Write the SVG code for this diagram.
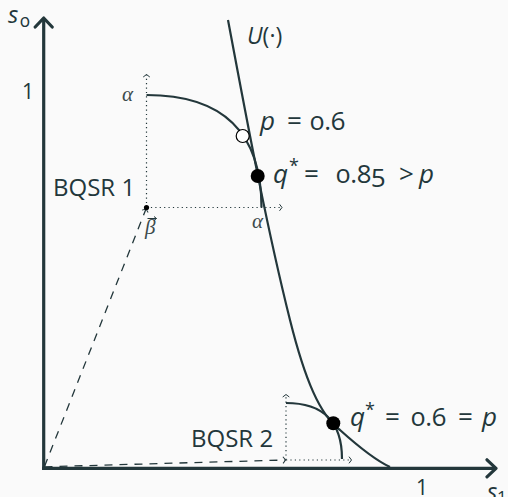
<svg xmlns="http://www.w3.org/2000/svg" width="508" height="497" viewBox="0 0 508 497">
<defs>
<style>
.t{font-family:"Open Sans","Noto Sans",sans-serif;fill:#23373B}
.m{font-family:"Open Sans","Noto Sans",sans-serif;fill:#23373B;font-size:26px}
.i{font-style:italic}
.on{font-variant-numeric:oldstyle-nums}
.g{font-family:"Liberation Serif","DejaVu Serif",serif;font-style:italic;fill:#3c4a4d;font-size:21px}
.axis{stroke:#23373B;stroke-width:3.2;fill:none;marker-end:url(#big)}
.crv{stroke:#23373B;stroke-width:2.2;fill:none}
.dot{stroke:#23373B;stroke-width:1.2;fill:none;stroke-dasharray:1.2 3.2;marker-end:url(#small)}
.dash{stroke:#23373B;stroke-width:1.3;fill:none;stroke-dasharray:8 7;marker-end:url(#small)}
</style>
<marker id="big" viewBox="-12 -11 14 22" markerWidth="14" markerHeight="22" refX="0" refY="0" orient="auto" markerUnits="userSpaceOnUse">
<path d="M-9,-8.5 L0,0 L-9,8.5" fill="none" stroke="#23373B" stroke-width="3.2" stroke-linejoin="round" stroke-linecap="round"/>
</marker>
<marker id="small" viewBox="-5 -5 7 10" markerWidth="7" markerHeight="10" refX="0" refY="0" orient="auto" markerUnits="userSpaceOnUse">
<path d="M-2.5,-3.3 L0,0 L-2.5,3.3" fill="none" stroke="#23373B" stroke-width="1"/>
</marker>
</defs>
<rect width="508" height="497" fill="#FAFAFA"/>

<g id="axes">
<path class="axis" d="M43.7,470 L43.7,18"/>
<path class="axis" d="M42,468.3 L496,468.3"/>
<text class="t i" x="8" y="23" font-size="24">s</text>
<text class="t on" x="20" y="27" font-size="18">0</text>
<text class="t i" x="487" y="499.5" font-size="24">s</text>
<text class="t" x="497" y="503" font-size="17">1</text>
<text class="t" x="22" y="99" font-size="21">1</text>
<text class="t" x="416" y="495" font-size="21">1</text>
</g>

<g id="connectors">
<path class="dash" d="M44.5,466.5 L146,209"/>
<path class="dash" d="M44.5,466.8 L285.5,460"/>
<path class="dot" d="M146.5,207.5 L146.5,74.5"/>
<path class="dot" d="M146.5,207.5 L282,207.5"/>
<path class="dot" d="M286,460 L286,394.5"/>
<path class="dot" d="M286,460 L351.5,460"/>
</g>

<g id="U">
<path class="crv" d="M228,20 C245,110 265,220 290,320 C305,380 320,415 340,430 C360,448 375,460 390,467"/>
<text class="t" x="247" y="44" font-size="23"><tspan class="i">U</tspan>(·)</text>
</g>

<g id="bqsr1">
<path class="crv" d="M146.5,95 C222.9,95 261.5,132.8 261.5,207.5"/>
<circle cx="146.5" cy="207.5" r="2.6" fill="#000"/>
<text class="g" x="122" y="101">α</text>
<text class="g" x="252" y="228">α</text>
<text class="g" x="145" y="234" font-size="20">β</text>
<path d="M147.5,218.5 L156.5,218.5 M154,216.5 L156.5,218.5 L154,220.5" stroke="#23373B" stroke-width="1" fill="none"/>
<text class="t" x="53" y="196" font-size="24">BQSR 1</text>
</g>

<g id="p1">
<circle cx="242.7" cy="136" r="6.5" fill="#fff" stroke="#000" stroke-width="1.2"/>
<text class="m"><tspan class="i" x="260" y="130">p</tspan><tspan x="287" y="130">=</tspan><tspan class="on" x="310" y="130">0.6</tspan></text>
</g>

<g id="q1">
<circle cx="257.7" cy="176" r="7" fill="#000"/>
<text class="m"><tspan class="i" x="273" y="182.7">q</tspan><tspan x="289" y="172" font-size="18">*</tspan><tspan x="304" y="182.7">=</tspan><tspan class="on" x="336" y="182.7">0.85</tspan><tspan x="399" y="182.7">&gt;</tspan><tspan class="i" x="419" y="182.7">p</tspan></text>
</g>

<g id="bqsr2">
<path class="crv" d="M286,403 C323.2,403 342,422.2 342,459"/>
<text class="t" x="191" y="447" font-size="24">BQSR 2</text>
</g>

<g id="q2">
<circle cx="333.3" cy="423.3" r="7" fill="#000"/>
<text class="m"><tspan class="i" x="350" y="426">q</tspan><tspan x="365" y="415.5" font-size="18">*</tspan><tspan x="385" y="426">=</tspan><tspan class="on" x="411" y="426">0.6</tspan><tspan x="458" y="426">=</tspan><tspan class="i" x="482" y="426">p</tspan></text>
</g>
</svg>
